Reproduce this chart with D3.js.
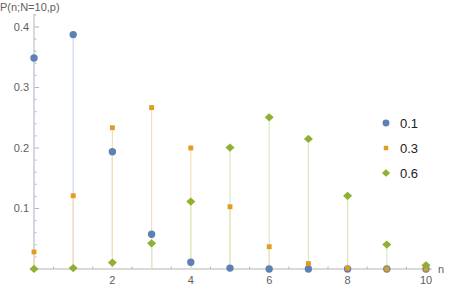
<!DOCTYPE html>
<html>
<head>
<meta charset="utf-8">
<script src="https://cdn.jsdelivr.net/npm/d3@7"></script>
<style>
  body { margin: 0; background: #fff; }
  text { font-family: "Liberation Sans", Arial, sans-serif; }
</style>
</head>
<body>
<svg width="451" height="290"></svg>
<script>
var nValues = [0, 1, 2, 3, 4, 5, 6, 7, 8, 9, 10];
var seriesNames = ["0.1", "0.3", "0.6"];
var p01 = [0.3487, 0.3874, 0.1937, 0.0574, 0.0112, 0.0015, 0.0001, 0.0000, 0.0000, 0.0000, 0.0000];
var p03 = [0.0282, 0.1211, 0.2335, 0.2668, 0.2001, 0.1029, 0.0368, 0.0090, 0.0014, 0.0001, 0.0000];
var p06 = [0.0001, 0.0016, 0.0106, 0.0425, 0.1115, 0.2007, 0.2508, 0.2150, 0.1209, 0.0403, 0.0060];
var xTicks = [2, 4, 6, 8, 10];
var yTicks = [0.1, 0.2, 0.3, 0.4];

var colors = ["#5e81b5", "#e19c24", "#8fb032"];
var stemColors = ["#cdd8ea", "#f5dfb8", "#e0e9c2"];
var allSeries = [p01, p03, p06];

svg = d3.select("svg");
x = d3.scaleLinear().domain([0, 10]).range([34, 426]);
y = d3.scaleLinear().domain([0, 0.4]).range([269, 27]);

var axisColor = "#b5b5b5";
var labelColor = "#606060";

// y axis
svg.append("line").attr("x1", x(0)).attr("x2", x(0)).attr("y1", 14).attr("y2", 269)
  .style("stroke", axisColor);
for (var t = 0.02; t < 0.43; t += 0.02) {
  var major = Math.abs(t * 10 - Math.round(t * 10)) < 1e-6;
  svg.append("line").attr("x1", x(0)).attr("x2", x(0) + (major ? 5 : 2.5))
    .attr("y1", y(t)).attr("y2", y(t)).style("stroke", axisColor);
}
yTicks.forEach(function(v) {
  svg.append("text").attr("x", 29).attr("y", y(v)).attr("dy", "0.35em")
    .attr("text-anchor", "end").style("font-size", "11px").style("fill", labelColor)
    .text(v.toFixed(1));
});

// x axis
svg.append("line").attr("x1", x(0)).attr("x2", 432).attr("y1", 269).attr("y2", 269)
  .style("stroke", axisColor);
for (var k = 0.5; k <= 10; k += 0.5) {
  var maj = k % 2 === 0;
  svg.append("line").attr("x1", x(k)).attr("x2", x(k))
    .attr("y1", 269).attr("y2", 269 - (maj ? 5 : 2.5)).style("stroke", axisColor);
}
xTicks.forEach(function(v) {
  svg.append("text").attr("x", x(v)).attr("y", 284)
    .attr("text-anchor", "middle").style("font-size", "11px").style("fill", labelColor)
    .text(v);
});

svg.append("text").attr("x", 0).attr("y", 11).style("font-size", "11px").style("fill", labelColor)
  .text("P(n;N=10,p)");
svg.append("text").attr("x", 438).attr("y", 273).style("font-size", "11px").style("fill", labelColor)
  .text("n");

// stems
allSeries.forEach(function(s, i) {
  svg.selectAll(null).data(s).enter().append("line")
    .attr("x1", function(d, j) { return x(nValues[j]); })
    .attr("x2", function(d, j) { return x(nValues[j]); })
    .attr("y1", y(0))
    .attr("y2", function(d) { return y(d); })
    .style("stroke", stemColors[i]).style("stroke-width", 1.2);
});

var shapes = [d3.symbolCircle, d3.symbolSquare, d3.symbolSquare];
var sizes = [43, 24, 34];
var extra = ["", "", " scale(1.1,1) rotate(45)"];

allSeries.forEach(function(s, i) {
  svg.selectAll(null).data(s).enter().append("path")
    .attr("d", d3.symbol().type(shapes[i]).size(sizes[i]))
    .attr("transform", function(d, j) {
      return "translate(" + x(nValues[j]) + "," + y(d) + ")" + extra[i];
    })
    .style("fill", colors[i]);
});

// legend
var legendSizes = [38, 20, 28];
seriesNames.forEach(function(name, i) {
  var ly = 123 + i * 25;
  svg.append("path").attr("d", d3.symbol().type(shapes[i]).size(legendSizes[i]))
    .attr("transform", "translate(386," + ly + ")" + extra[i])
    .style("fill", colors[i]);
  svg.append("text").attr("x", 400).attr("y", ly).attr("dy", "0.36em")
    .style("font-size", "13px").style("fill", "#222").text(name);
});
</script>
</body>
</html>
